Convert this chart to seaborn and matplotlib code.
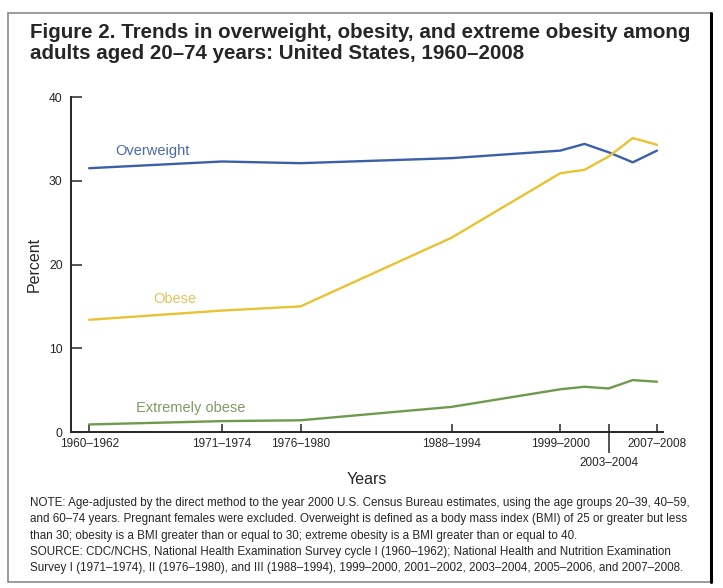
import pandas as pd
import matplotlib.pyplot as plt
import seaborn as sns
from matplotlib.patches import Rectangle
from matplotlib.lines import Line2D

# survey periods and their plotted position (mid year)
surveys = ['1960–1962', '1971–1974', '1976–1980', '1988–1994', '1999–2000',
           '2001–2002', '2003–2004', '2005–2006', '2007–2008']
mid_year = [1960.5, 1971.5, 1978, 1990.5, 1999.5, 2001.5, 2003.5, 2005.5, 2007.5]

overweight = [31.5, 32.3, 32.1, 32.7, 33.6, 34.4, 33.4, 32.2, 33.6]
obese = [13.4, 14.5, 15.0, 23.2, 30.9, 31.3, 32.9, 35.1, 34.3]
extremely_obese = [0.9, 1.3, 1.4, 3.0, 5.1, 5.4, 5.2, 6.2, 6.0]

series_names = ['Overweight', 'Obese', 'Extremely obese']
line_colors = ['#3c60a8', '#e9c232', '#6f9a4e']
label_colors = ['#4b6aa9', '#e3c35e', '#7c9d62']

# labelled ticks on the x axis (2003–2004 sits lower)
tick_surveys = ['1960–1962', '1971–1974', '1976–1980', '1988–1994', '1999–2000', '2003–2004', '2007–2008']
low_label = '2003–2004'

title = ('Figure 2. Trends in overweight, obesity, and extreme obesity among\n'
         'adults aged 20–74 years: United States, 1960–2008')
note = ('NOTE: Age-adjusted by the direct method to the year 2000 U.S. Census Bureau estimates, using the age groups 20–39, 40–59,\n'
        'and 60–74 years. Pregnant females were excluded. Overweight is defined as a body mass index (BMI) of 25 or greater but less\n'
        'than 30; obesity is a BMI greater than or equal to 30; extreme obesity is a BMI greater than or equal to 40.\n'
        'SOURCE: CDC/NCHS, National Health Examination Survey cycle I (1960–1962); National Health and Nutrition Examination\n'
        'Survey I (1971–1974), II (1976–1980), and III (1988–1994), 1999–2000, 2001–2002, 2003–2004, 2005–2006, and 2007–2008.')

sns.set_style('ticks')
plt.rcParams['font.family'] = ['Liberation Sans', 'DejaVu Sans']

df = pd.DataFrame({
    'year': mid_year * 3,
    'percent': overweight + obese + extremely_obese,
    'group': [n for n in series_names for _ in mid_year],
})

fig = plt.figure(figsize=(7.23, 5.88), dpi=100)
ax = fig.add_axes([0.0982, 0.2653, 0.8188, 0.5697])

sns.lineplot(data=df, x='year', y='percent', hue='group', hue_order=series_names,
             palette=line_colors, linewidth=1.7, legend=False, ax=ax)

# inline series labels
label_pos = {'Overweight': (1965.7, 33.6), 'Obese': (1967.6, 15.9), 'Extremely obese': (1968.9, 2.9)}
for name, color in zip(series_names, label_colors):
    x, y = label_pos[name]
    ax.text(x, y, name, color=color, fontsize=10.5, ha='center', va='center')

ax.set_xlim(1959.0, 2008.0)
ax.set_ylim(0, 40)
ax.set_yticks([0, 10, 20, 30, 40])
sns.despine(ax=ax)
ax.spines['left'].set_linewidth(1.4)
ax.spines['bottom'].set_linewidth(1.4)

tick_years = [mid_year[surveys.index(s)] for s in tick_surveys]
ax.set_xticks(tick_years)
ax.set_xticklabels(['' if s == low_label else s for s in tick_surveys])
ax.xaxis.remove_overlapping_locs = False
ax.set_xticks([mid_year[surveys.index(low_label)]], minor=True)
ax.set_xticklabels([low_label], minor=True)
ax.tick_params(axis='x', which='major', direction='in', length=6, width=1.1, pad=4, labelsize=8.5)
ax.tick_params(axis='x', which='minor', direction='out', length=15, width=1.1, pad=3, labelsize=8.5)
ax.tick_params(axis='y', direction='in', length=8, width=1.1, pad=6, labelsize=8.7)

ax.set_xlabel('Years', fontsize=11.5, labelpad=2)
ax.set_ylabel('Percent', fontsize=11.5, labelpad=5)

fig.text(0.0415, 1 - 23 / 588, title, fontsize=14.8, fontweight='bold',
         va='top', ha='left', linespacing=1.15)
fig.text(0.0415, 1 - 497 / 588, note, fontsize=8.35,
         va='top', ha='left', linespacing=1.48)

# frame round the whole figure with a dark right edge
fig.patches.append(Rectangle((8 / 723, 1 - 582 / 588), 703 / 723, 569 / 588,
                             transform=fig.transFigure, fill=False, edgecolor='#8a8a8a', linewidth=1.2))
fig.lines.append(Line2D([711 / 723, 711 / 723], [1 - 582 / 588, 1 - 13 / 588],
                        transform=fig.transFigure, color='black', linewidth=2.2))

fig.savefig('out.png', dpi=100)
